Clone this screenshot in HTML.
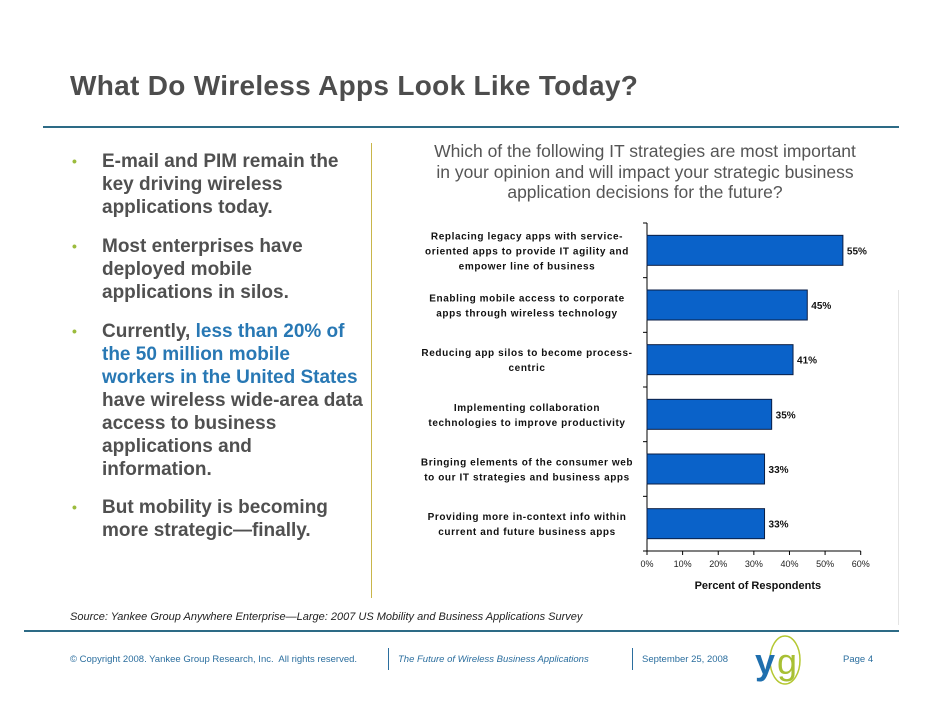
<!DOCTYPE html>
<html><head><meta charset="utf-8">
<style>
body{margin:0;width:942px;height:728px;background:#fff;position:relative;overflow:hidden;font-family:"Liberation Sans",Arial,sans-serif}
.abs{position:absolute}
.title{left:70px;top:70px;font-size:28px;font-weight:bold;color:#4d4d4d;white-space:nowrap;letter-spacing:0.3px}
.bul{left:72px;font-size:19px;font-weight:bold;color:#505050;line-height:23px}
.bul .dot{position:absolute;left:0;top:0;color:#9bbb3c;font-size:14px}
.bul .tx{position:absolute;left:30px;top:0;white-space:nowrap}
.blue{color:#2878b4}
.q{left:395px;top:141px;width:500px;text-align:center;font-size:17.5px;line-height:20.5px;color:#555}
.foot{font-size:9.5px;color:#2b6e9e;top:654px;white-space:nowrap}
</style></head><body>
<div class="abs title">What Do Wireless Apps Look Like Today?</div>
<div class="abs" style="left:43px;top:126px;width:856px;height:2px;background:#2d6b86"></div>
<div class="abs bul" style="top:150px"><span class="dot">•</span><span class="tx">E-mail and PIM remain the<br>key driving wireless<br>applications today.</span></div>
<div class="abs bul" style="top:235px"><span class="dot">•</span><span class="tx">Most enterprises have<br>deployed mobile<br>applications in silos.</span></div>
<div class="abs bul" style="top:320px"><span class="dot">•</span><span class="tx">Currently, <span class="blue">less than 20% of<br>the 50 million mobile<br>workers in the United States</span><br>have wireless wide-area data<br>access to business<br>applications and<br>information.</span></div>
<div class="abs bul" style="top:496px"><span class="dot">•</span><span class="tx">But mobility is becoming<br>more strategic—finally.</span></div>
<div class="abs" style="left:371px;top:143px;width:1px;height:455px;background:#c9b64a"></div>
<div class="abs q">Which of the following IT strategies are most important<br>in your opinion and will impact your strategic business<br>application decisions for the future?</div>
<svg class="abs" style="left:0;top:0" width="942" height="728">
<g id="chart"></g>
</svg>
<div class="abs" style="left:898px;top:290px;width:1px;height:335px;background:#e4e4e4"></div>
<div class="abs" style="left:70px;top:611px;font-size:11px;font-style:italic;color:#222;white-space:nowrap">Source: Yankee Group Anywhere Enterprise—Large: 2007 US Mobility and Business Applications Survey</div>
<div class="abs" style="left:24px;top:630px;width:875px;height:2px;background:#2d6b86"></div>
<div class="abs foot" style="left:70px">© Copyright 2008. Yankee Group Research, Inc.&nbsp; All rights reserved.</div>
<div class="abs" style="left:388px;top:648px;width:1px;height:22px;background:#2b6e9e"></div>
<div class="abs foot" style="left:398px;font-style:italic">The Future of Wireless Business Applications</div>
<div class="abs" style="left:632px;top:648px;width:1px;height:22px;background:#2b6e9e"></div>
<div class="abs foot" style="left:642px">September 25, 2008</div>
<svg class="abs" style="left:750px;top:634px" width="70" height="52">
<ellipse cx="35" cy="26" rx="15" ry="24" fill="none" stroke="#b5c832" stroke-width="1.5"/>
<text x="5" y="40" font-family="Liberation Sans" font-weight="bold" font-size="36" fill="#1f6fae">y</text>
<text x="27" y="40" font-family="Liberation Sans" font-size="36" fill="#a8c034">g</text>
</svg>
<div class="abs foot" style="left:843px">Page 4</div>
<script>
const categories=[
["Replacing legacy apps with service-","oriented apps to provide IT agility and","empower line of business"],
["Enabling mobile access to corporate","apps through wireless technology"],
["Reducing app silos to become process-","centric"],
["Implementing collaboration","technologies to improve productivity"],
["Bringing elements of the consumer web","to our IT strategies and business apps"],
["Providing more in-context info within","current and future business apps"]];
const values=[55,45,41,35,33,33];
const valueLabels=["55%","45%","41%","35%","33%","33%"];
const ticks=[0,10,20,30,40,50,60];
const tickLabels=["0%","10%","20%","30%","40%","50%","60%"];
const X0=647,X1=860.7,Y0=223,Y1=551,MAX=60;
const x=v=>X0+(X1-X0)*v/MAX;
const band=(Y1-Y0)/categories.length;
const y=i=>Y0+band*i;
const g=document.getElementById('chart');
const NS='http://www.w3.org/2000/svg';
function mk(t,a){const e=document.createElementNS(NS,t);for(const k in a)e.setAttribute(k,a[k]);g.appendChild(e);return e;}
let ax=mk('line',{x1:X0,y1:Y0,x2:X0,y2:Y1,stroke:'#000','stroke-width':1});


let bx=mk('line',{x1:X0,y1:Y1,x2:X1,y2:Y1,stroke:'#000','stroke-width':1});


for(let i=0;i<=categories.length;i++){mk('line',{x1:X0-4,y1:y(i),x2:X0,y2:y(i),stroke:'#000'});}
ticks.forEach((t,i)=>{
 mk('line',{x1:x(t),y1:Y1,x2:x(t),y2:Y1+4,stroke:'#000'});
 const tl=mk('text',{x:x(t),y:Y1+16,'text-anchor':'middle','font-size':9,fill:'#222','font-family':'Liberation Sans'});
 tl.textContent=tickLabels[i];
 
 
});
const at=mk('text',{x:(X0+X1)/2+4,y:Y1+38,'text-anchor':'middle','font-size':11,'font-weight':'bold',fill:'#111','font-family':'Liberation Sans'});
at.textContent='Percent of Respondents';


categories.forEach((c,i)=>{
 const cy=y(i)+band/2;
 const r=mk('rect',{x:X0,y:cy-15,width:x(values[i])-X0,height:30,fill:'#0a62c9',stroke:'#0b1e44','stroke-width':1});
 
 
 const vl=mk('text',{x:x(values[i])+4,y:cy+4,'font-size':10,'font-weight':'bold',fill:'#111','font-family':'Liberation Sans'});
 vl.textContent=valueLabels[i];
 
 
 const n=c.length, lh=15;
 c.forEach((line,j)=>{
  const t=mk('text',{x:527,y:cy-(n-1)*lh/2+j*lh+4,'text-anchor':'middle','font-size':10,'font-weight':'bold',fill:'#111','letter-spacing':0.6,'font-family':'Liberation Sans'});
  t.textContent=line;
  
  
 });
});
</script>
</body></html>
